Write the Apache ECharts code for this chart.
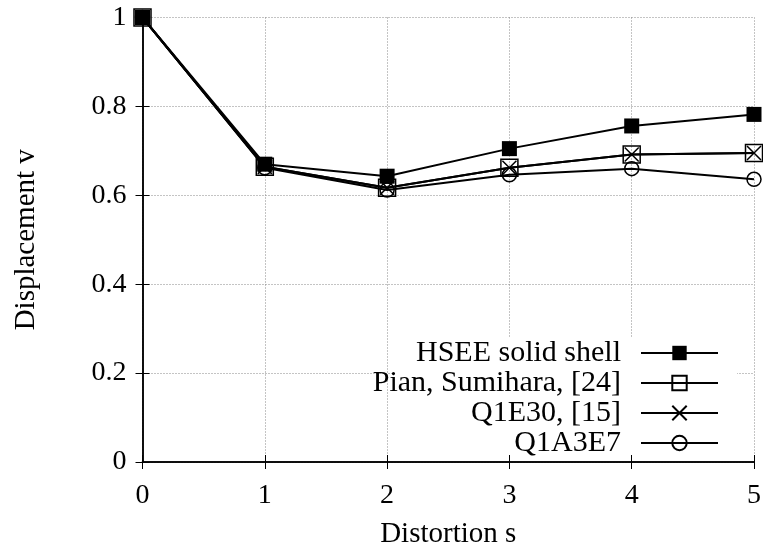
<!DOCTYPE html>
<html>
<head>
<meta charset="utf-8">
<script src="https://cdn.jsdelivr.net/npm/echarts@6/dist/echarts.min.js"></script>
<style>
html,body{margin:0;padding:0;background:#fff;}
#c{width:763px;height:551px;}
</style>
</head>
<body>
<div id="c"></div>
<script>
var distortion = [0, 1, 2, 3, 4, 5];
var hsee = [1.0, 0.670, 0.643, 0.705, 0.756, 0.782];
var pian = [1.0, 0.664, 0.617, 0.662, 0.692, 0.695];
var q1e30 = [1.0, 0.664, 0.617, 0.662, 0.692, 0.695];
var q1a3e7 = [1.0, 0.662, 0.612, 0.646, 0.660, 0.636];
var seriesNames = ['HSEE solid shell', 'Pian, Sumihara, [24]', 'Q1E30, [15]', 'Q1A3E7'];

var FONT = 'Liberation Serif';
function pairs(ys){ return distortion.map(function(x,i){ return [x, ys[i]]; }); }
var xPath = 'path://M0,0L10,10M10,0L0,10';

var chart = echarts.init(document.getElementById('c'), null, {renderer:'canvas'});
var lineStyle = {color:'#000', width:2};
chart.setOption({
  animation:false,
  backgroundColor:'#fff',
  grid:{left:142.5, right:9, top:17.5, bottom:89, containLabel:false, outerBoundsMode:'none'},
  graphic:[{
    type:'rect', z:1, silent:true,
    shape:{x:395, y:337, width:342, height:117},
    style:{fill:'#fff'}
  }],
  xAxis:[{
    type:'value', min:0, max:5, interval:1,
    name:'Distortion s', nameLocation:'middle', nameGap:58,
    nameTextStyle:{fontFamily:FONT, fontSize:29, color:'#000'},
    axisLine:{show:true, lineStyle:{color:'#000', width:1.5}},
    axisTick:{show:true, inside:true, length:7, lineStyle:{color:'#000'}},
    axisLabel:{fontFamily:FONT, fontSize:28, color:'#000', margin:20},
    splitLine:{show:true, lineStyle:{color:'#888', type:[1,2], width:1}}
  },{
    type:'value', min:0, max:5, interval:1, position:'top',
    axisLine:{show:true, lineStyle:{color:'#000', width:1.5}},
    axisTick:{show:true, inside:true, length:7, lineStyle:{color:'#000'}},
    axisLabel:{show:false}, splitLine:{show:false}
  }],
  yAxis:[{
    type:'value', min:0, max:1, interval:0.2,
    name:'Displacement v', nameLocation:'middle', nameGap:102,
    nameTextStyle:{fontFamily:FONT, fontSize:29, color:'#000'},
    axisLine:{show:true, lineStyle:{color:'#000', width:1.5}},
    axisTick:{show:true, inside:true, length:7, lineStyle:{color:'#000'}},
    axisLabel:{fontFamily:FONT, fontSize:28, color:'#000', margin:16},
    splitLine:{show:true, lineStyle:{color:'#888', type:[1,2], width:1}}
  },{
    type:'value', min:0, max:1, interval:0.2, position:'right',
    axisLine:{show:true, lineStyle:{color:'#000', width:1.5}},
    axisTick:{show:true, inside:true, length:7, lineStyle:{color:'#000'}},
    axisLabel:{show:false}, splitLine:{show:false}
  }],
  legend:{
    orient:'vertical', align:'right',
    right:36, top:334,
    padding:[4,8,2,8],
    itemWidth:77, itemHeight:18, itemGap:0,
    textStyle:{fontFamily:FONT, fontSize:30, color:'#000', padding:[0,15,0,0]},
    data:seriesNames
  },
  series:[{
    name:seriesNames[0], type:'line', data:pairs(hsee),
    symbol:'rect', symbolSize:15, showAllSymbol:true,
    lineStyle:lineStyle, itemStyle:{color:'#000', borderColor:'#000', borderWidth:0}, z:5
  },{
    name:seriesNames[1], type:'line', data:pairs(pian),
    symbol:'rect', symbolSize:17,
    lineStyle:lineStyle, itemStyle:{color:'rgba(0,0,0,0)', borderColor:'#000', borderWidth:1.5}, z:3
  },{
    name:seriesNames[2], type:'line', data:pairs(q1e30),
    symbol:xPath, symbolSize:14,
    lineStyle:lineStyle, itemStyle:{color:'rgba(0,0,0,0)', borderColor:'#000', borderWidth:1.5}, z:4
  },{
    name:seriesNames[3], type:'line', data:pairs(q1a3e7),
    symbol:'circle', symbolSize:14,
    lineStyle:lineStyle, itemStyle:{color:'rgba(0,0,0,0)', borderColor:'#000', borderWidth:1.5}, z:2
  }]
});
</script>
</body>
</html>
